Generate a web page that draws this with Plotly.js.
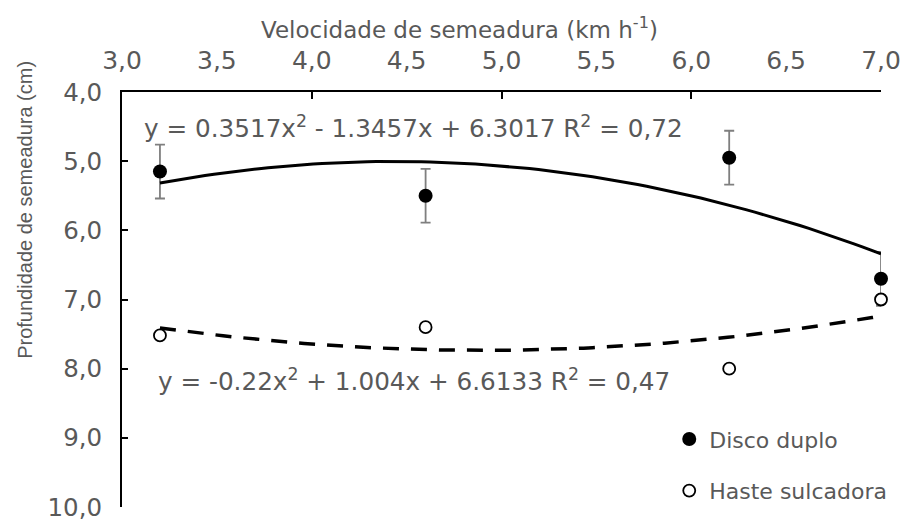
<!DOCTYPE html>
<html>
<head>
<meta charset="utf-8">
<script src="https://cdn.plot.ly/plotly-3.0.1.min.js"></script>
<style>html,body{margin:0;padding:0;background:#fff;}#chart{width:903px;height:521px;}</style>
</head>
<body>
<div id="chart"></div>
<script>
// ---- data ----
const velocidade = [3.2, 4.6, 6.2, 7.0];           // km h-1
const discoDuplo = [5.15, 5.50, 4.95, 6.70];        // cm
const discoDuploErro = [0.39, 0.39, 0.39, 0.39];    // cm
const hasteSulcadora = [7.52, 7.40, 8.00, 7.00];    // cm
const seriesNames = ["Disco duplo", "Haste sulcadora"];
const yTickVals = [4, 5, 6, 7, 8, 9, 10];
const eqDisco = "y = 0.3517x<sup>2</sup> - 1.3457x + 6.3017 R<sup>2</sup> = 0,72";
const eqHaste = "y = -0.22x<sup>2</sup> + 1.004x + 6.6133 R<sup>2</sup> = 0,47";
const xTitle = "Velocidade de semeadura (km h<sup>-1</sup>)";
const yTitle = "Profundidade de semeadura (cm)";

// least-squares quadratic trend (as the spreadsheet trendline does)
function quadFit(xs, ys) {
  let S = [0,0,0,0,0], T = [0,0,0];
  for (let i = 0; i < xs.length; i++) {
    let p = 1;
    for (let k = 0; k < 5; k++) { S[k] += p; if (k < 3) T[k] += p * ys[i]; p *= xs[i]; }
  }
  const M = [[S[0],S[1],S[2],T[0]],[S[1],S[2],S[3],T[1]],[S[2],S[3],S[4],T[2]]];
  for (let c = 0; c < 3; c++) {
    for (let r = c + 1; r < 3; r++) {
      const f = M[r][c] / M[c][c];
      for (let k = c; k < 4; k++) M[r][k] -= f * M[c][k];
    }
  }
  const sol = [0,0,0];
  for (let r = 2; r >= 0; r--) {
    let s = M[r][3];
    for (let k = r + 1; k < 3; k++) s -= M[r][k] * sol[k];
    sol[r] = s / M[r][r];
  }
  return sol; // a0, a1, a2
}
function trend(xs, ys) {
  const c = quadFit(xs, ys);
  const x0 = Math.min(...xs), x1 = Math.max(...xs), n = 80;
  const tx = [], ty = [];
  for (let i = 0; i <= n; i++) {
    const x = x0 + (x1 - x0) * i / n;
    tx.push(x); ty.push(c[0] + c[1] * x + c[2] * x * x);
  }
  return {x: tx, y: ty};
}
const tD = trend(velocidade, discoDuplo);
const tH = trend(velocidade, hasteSulcadora);

const grey = "#595959";
const FONT = "DejaVu Sans";

const data = [
  {x: velocidade, y: discoDuplo, type: "scatter", mode: "markers", name: seriesNames[0],
   legendgroup: "a", cliponaxis: false,
   marker: {color: "#000", size: 14},
   error_y: {type: "data", array: discoDuploErro, visible: true, color: "#7f7f7f", thickness: 1.8, width: 5}},
  {x: velocidade, y: hasteSulcadora, type: "scatter", mode: "markers", name: seriesNames[1],
   legendgroup: "b", cliponaxis: false,
   marker: {color: "#fff", size: 12, line: {color: "#000", width: 1.8}}},
  {x: tD.x, y: tD.y, type: "scatter", mode: "lines", showlegend: false, hoverinfo: "skip", cliponaxis: false,
   line: {color: "#000", width: 3}},
  {x: tH.x, y: tH.y, type: "scatter", mode: "lines", showlegend: false, hoverinfo: "skip", cliponaxis: false,
   line: {color: "#000", width: 3.5, dash: "16px,12px"}},
  {x: [], y: [], xaxis: "x2", type: "scatter", mode: "markers", showlegend: false, hoverinfo: "skip"}
];

const layout = {
  width: 903, height: 521,
  margin: {l: 122, r: 22, t: 92, b: 14, autoexpand: false},
  paper_bgcolor: "#fff", plot_bgcolor: "#fff",
  separators: ",.",
  font: {family: FONT, color: grey, size: 22},
  showlegend: true,
  legend: {x: 0.721, xanchor: "left", y: 0.214, yanchor: "top",
           font: {family: FONT, size: 22, color: grey},
           traceorder: "grouped", tracegroupgap: 20, bgcolor: "rgba(0,0,0,0)"},
  xaxis: {side: "top", range: [3, 7], dtick: 0.5, tick0: 3, tickformat: ".1f", automargin: false,
          showline: true, linecolor: "#000", linewidth: 2, ticks: "", showgrid: false, zeroline: false,
          ticklabeloverflow: "allow",
          tickfont: {family: FONT, size: 25, color: grey}, ticklabelstandoff: 11},
  xaxis2: {overlaying: "x", side: "top", range: [3, 7], dtick: 1, tick0: 3, automargin: false,
           ticks: "inside", ticklen: 7, tickwidth: 2, tickcolor: "#000",
           showticklabels: false, showline: false, showgrid: false, zeroline: false},
  yaxis: {range: [10, 4], tickmode: "array", tickvals: yTickVals, tickformat: ".1f", automargin: false,
          showline: true, linecolor: "#000", linewidth: 2, ticks: "inside", ticklen: 6, tickwidth: 2, tickcolor: "#000",
          showgrid: false, zeroline: false, ticklabeloverflow: "allow",
          tickfont: {family: FONT, size: 24.5, color: grey}, ticklabelstandoff: 13},
  annotations: [
    {text: xTitle, xref: "paper", yref: "paper", x: 0.445, y: (507 - 28) / 415, xanchor: "center", yanchor: "middle",
     showarrow: false, font: {family: FONT, size: 23, color: grey}},
    {text: yTitle, xref: "paper", yref: "paper", x: -0.128, y: (507 - 210) / 415, xanchor: "center", yanchor: "middle",
     textangle: -90, showarrow: false, font: {family: "Liberation Sans", size: 20, color: grey}},
    {text: eqDisco, xref: "paper", yref: "paper", x: (142 - 122) / 759, y: (507 - 127) / 415,
     xanchor: "left", yanchor: "middle", showarrow: false, font: {family: FONT, size: 24.7, color: grey}},
    {text: eqHaste, xref: "paper", yref: "paper", x: (156 - 122) / 759, y: (507 - 380) / 415,
     xanchor: "left", yanchor: "middle", showarrow: false, font: {family: FONT, size: 24.7, color: grey}}
  ]
};

Plotly.newPlot("chart", data, layout, {staticPlot: true, displayModeBar: false});
</script>
</body>
</html>
